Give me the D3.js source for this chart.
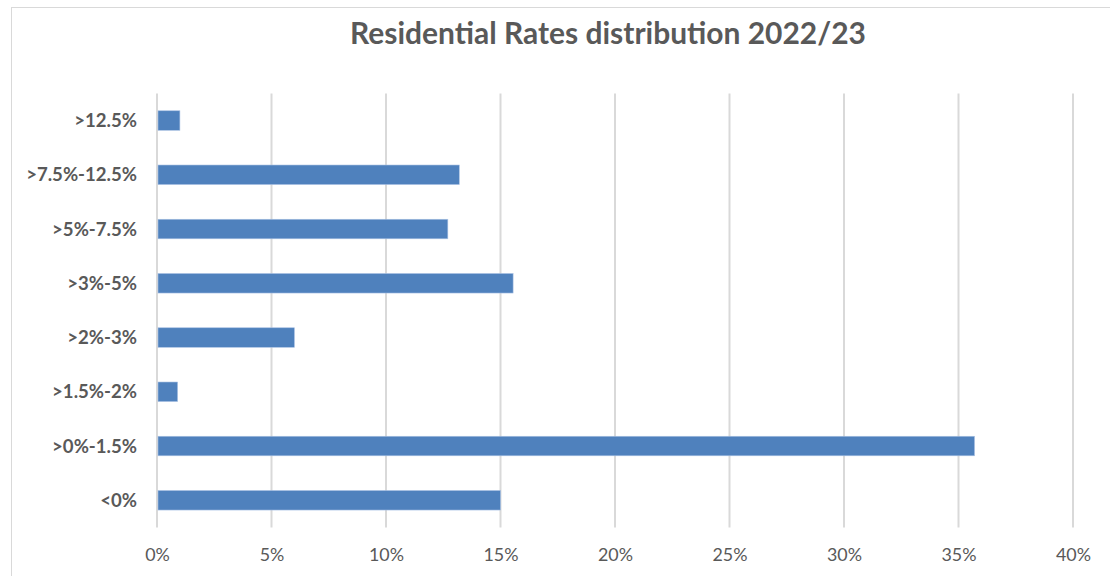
<!DOCTYPE html>
<html>
<head>
<meta charset="utf-8">
<script src="https://cdn.jsdelivr.net/npm/d3@7"></script>
<style>
  html, body { margin: 0; padding: 0; background: #fff; }
  svg { display: block; }
</style>
</head>
<body>
<svg id="chart" width="1110" height="576"></svg>
<script>
const title = "Residential Rates distribution 2022/23";
const categories = [">12.5%", ">7.5%-12.5%", ">5%-7.5%", ">3%-5%", ">2%-3%", ">1.5%-2%", ">0%-1.5%", "<0%"];
const values = [1.0, 13.2, 12.7, 15.55, 6.0, 0.9, 35.7, 15.0];
const tickValues = [0, 5, 10, 15, 20, 25, 30, 35, 40];

const svg = d3.select("#chart");
const font = "Lato, 'Open Sans', sans-serif";
const textColor = "#595959";

// outer frame
svg.append("rect")
  .attr("x", 11.5).attr("y", 7.5)
  .attr("width", 1110).attr("height", 600)
  .attr("fill", "#fff").attr("stroke", "#d9d9d9").attr("stroke-width", 1);

const plot = { left: 157, right: 1073, top: 93.4, bottom: 527.4 };

const x = d3.scaleLinear().domain([0, 40]).range([plot.left, plot.right]);
const y = d3.scaleBand().domain(categories).range([plot.top, plot.bottom]).paddingInner(0.64).paddingOuter(0.32);

// gridlines
svg.append("g").selectAll("line").data(tickValues).join("line")
  .attr("x1", d => x(d)).attr("x2", d => x(d))
  .attr("y1", plot.top).attr("y2", plot.bottom)
  .attr("stroke", "#d9d9d9").attr("stroke-width", 2);

// bars
svg.append("g").selectAll("rect").data(categories).join("rect")
  .attr("x", x(0) + 1)
  .attr("y", d => y(d))
  .attr("width", (d, i) => x(values[i]) - x(0) - 1)
  .attr("height", y.bandwidth())
  .attr("fill", "#4f81bd")
  .attr("stroke", "#a9c1e3").attr("stroke-width", 0.6);

// category labels
const labels = svg.append("g").selectAll("text").data(categories).join("text")
  .attr("x", 137)
  .attr("y", d => y(d) + y.bandwidth() / 2)
  .attr("dy", "0.36em")
  .attr("text-anchor", "end")
  .attr("font-family", font)
  .attr("font-weight", "bold")
  .attr("font-size", 16)
  .attr("fill", textColor)
  .text(d => d);
const lw = labels.filter((d, i) => i === 1).node().getComputedTextLength();
labels.attr("font-size", 16 * 111 / lw);

// x tick labels
const xAxis = d3.axisBottom(x).tickValues(tickValues).tickFormat(d => d + "%").tickSize(0).tickPadding(0);
const ax = svg.append("g").attr("transform", `translate(0, ${548})`).call(xAxis);
ax.select(".domain").remove();
const ticks = ax.selectAll("text")
  .attr("font-family", font)
  .attr("font-size", 16)
  .attr("fill", textColor)
  .attr("dy", "0.71em");
const tw = ticks.filter(d => d === 40).node().getComputedTextLength();
ticks.attr("font-size", 16 * 35 / tw);

// title
const t = svg.append("text")
  .attr("x", 608).attr("y", 44)
  .attr("text-anchor", "middle")
  .attr("font-family", font)
  .attr("font-weight", "bold")
  .attr("font-size", 24)
  .attr("fill", textColor)
  .text(title);
const w = t.node().getComputedTextLength();
t.attr("font-size", 24 * 516 / w);
</script>
</body>
</html>
